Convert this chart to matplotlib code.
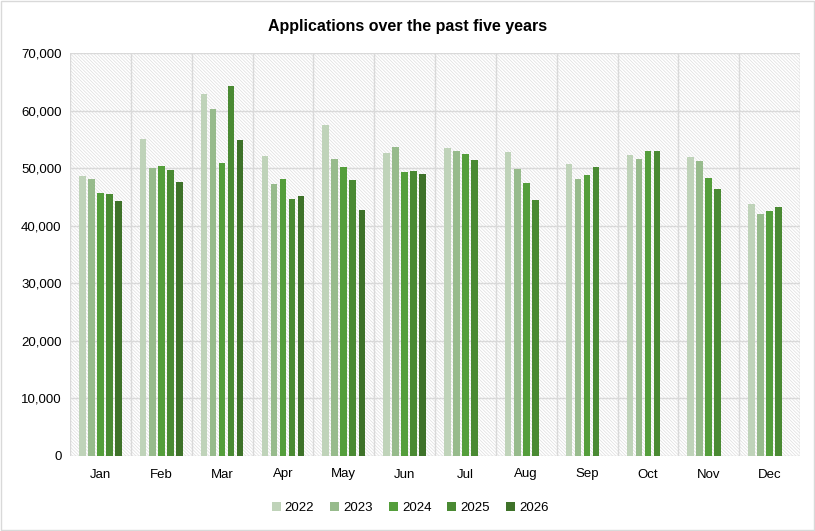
import numpy as np
import matplotlib
matplotlib.use('Agg')
import matplotlib.pyplot as plt
from matplotlib.patches import Rectangle

plt.rcParams['font.family'] = ['Liberation Sans', 'DejaVu Sans']
plt.rcParams['hatch.linewidth'] = 0.5
plt.rcParams['hatch.color'] = '#dedede'

months = ['Jan', 'Feb', 'Mar', 'Apr', 'May', 'Jun',
          'Jul', 'Aug', 'Sep', 'Oct', 'Nov', 'Dec']
years = ['2022', '2023', '2024', '2025', '2026']

# applications per month, one list per year (nan = no data yet)
v2022 = [48700, 55100, 62900, 52100, 57500, 52600, 53500, 52800, 50700, 52300, 51900, 43800]
v2023 = [48100, 50000, 60300, 47300, 51600, 53700, 53000, 49900, 48100, 51600, 51300, 42000]
v2024 = [45700, 50400, 50900, 48100, 50200, 49300, 52500, 47400, 48800, 53000, 48300, 42600]
v2025 = [45500, 49700, 64300, 44700, 47900, 49500, 51400, 44500, 50200, 53000, 46400, 43300]
v2026 = [44300, 47600, 54900, 45200, 42700, 49000, np.nan, np.nan, np.nan, np.nan, np.nan, np.nan]
series = [v2022, v2023, v2024, v2025, v2026]
colors = ['#bfd3b9', '#97bb8c', '#549e3b', '#4a8a33', '#3e7229']

fig = plt.figure(figsize=(8.15, 5.31), dpi=100)
fig.patches.append(Rectangle((0.001, 0.001), 0.998, 0.997, transform=fig.transFigure,
                             fill=False, edgecolor='#d9d9d9', linewidth=1))
ax = fig.add_axes([70 / 815, 75 / 531, 730 / 815, 403 / 531])

# hatched plot background
ax.add_patch(Rectangle((0, 0), 1, 1, transform=ax.transAxes, facecolor='white',
                       edgecolor='#dedede', hatch='\\' * 10, linewidth=0, zorder=0))

x = np.arange(len(months))
step = 0.148
width = 0.107
for i, (vals, col, yr) in enumerate(zip(series, colors, years)):
    ax.bar(x + (i - 2) * step, vals, width=width, color=col, label=yr, zorder=3)

ax.set_xlim(-0.5, 11.5)
ax.set_ylim(0, 70000)
ax.set_yticks(np.arange(0, 70001, 10000))
ax.yaxis.set_major_formatter(matplotlib.ticker.FuncFormatter(lambda v, p: '{:,.0f}'.format(v)))
ax.set_xticks(x)
ax.set_xticklabels(months)
ax.set_xticks(np.arange(-0.5, 12, 1), minor=True)
ax.tick_params(axis='both', which='both', length=0, labelsize=9.5, colors='#000000')
ax.tick_params(axis='x', pad=9)
ax.tick_params(axis='y', pad=6)
ax.grid(axis='y', which='major', color='#d9d9d9', linewidth=1, zorder=1)
ax.grid(axis='x', which='minor', color='#d9d9d9', linewidth=1, zorder=1)
for s in ax.spines.values():
    s.set_visible(False)
ax.set_axisbelow(True)

fig.text(0.5, 1 - 27 / 531, 'Applications over the past five years', ha='center', va='center',
         fontsize=11.5, fontweight='bold')
ax.legend(loc='center', bbox_to_anchor=(410 / 815, 1 - 508 / 531), bbox_transform=fig.transFigure,
          ncol=5, frameon=False, fontsize=9.5, handlelength=0.7, handleheight=0.7,
          columnspacing=1.2, handletextpad=0.3)

fig.savefig('out.png', dpi=100)
